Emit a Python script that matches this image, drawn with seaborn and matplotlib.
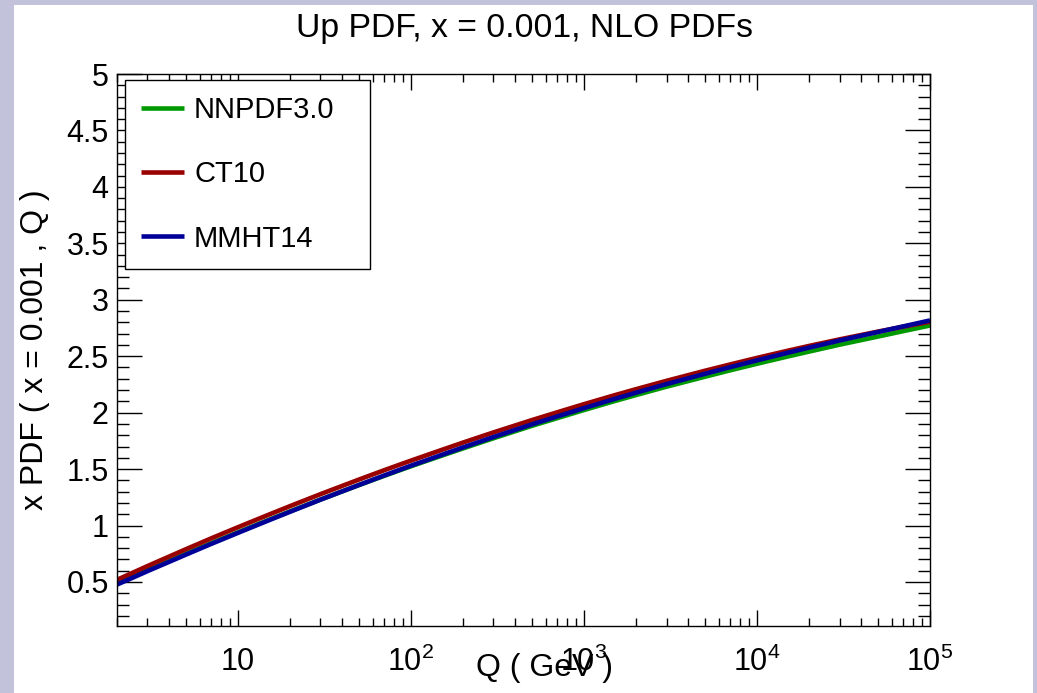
import numpy as np
import pandas as pd
import matplotlib
matplotlib.use("Agg")
import matplotlib.pyplot as plt
import matplotlib.ticker as mticker
from matplotlib.patches import Rectangle
import seaborn as sns

# ---------------- data ----------------
Q = [2, 2.5, 3, 4, 5, 7, 10, 15, 20, 30, 50, 70, 100, 150, 200, 300, 500, 700,
     1000, 1500, 2000, 3000, 5000, 7000, 1e4, 1.5e4, 2e4, 3e4, 5e4, 7e4, 1e5]
nnpdf30 = [0.485, 0.550, 0.604, 0.685, 0.749, 0.843, 0.940, 1.049, 1.125, 1.230, 1.358,
           1.440, 1.525, 1.618, 1.683, 1.773, 1.883, 1.951, 2.023, 2.102, 2.156, 2.230,
           2.318, 2.375, 2.433, 2.497, 2.541, 2.602, 2.674, 2.722, 2.772]
ct10 = [0.519, 0.586, 0.641, 0.725, 0.790, 0.886, 0.985, 1.095, 1.172, 1.278, 1.407,
        1.490, 1.575, 1.669, 1.735, 1.825, 1.934, 2.003, 2.075, 2.154, 2.208, 2.282,
        2.371, 2.427, 2.485, 2.548, 2.591, 2.649, 2.718, 2.761, 2.805]
mmht14 = [0.477, 0.542, 0.596, 0.678, 0.742, 0.837, 0.935, 1.045, 1.122, 1.229, 1.359,
          1.443, 1.530, 1.625, 1.692, 1.784, 1.896, 1.966, 2.040, 2.121, 2.177, 2.253,
          2.344, 2.403, 2.463, 2.530, 2.576, 2.639, 2.714, 2.764, 2.817]
series_names = ["NNPDF3.0", "CT10", "MMHT14"]
series_colors = ["#009900", "#990000", "#000099"]

title = "Up PDF, x = 0.001, NLO PDFs"
xlabel = "Q ( GeV )"
ylabel = "x PDF ( x = 0.001 , Q )"

df = pd.concat([
    pd.DataFrame({"Q": Q, "val": v, "set": n})
    for n, v in zip(series_names, [nnpdf30, ct10, mmht14])
], ignore_index=True)

# ---------------- style ----------------
sns.set_theme(style="white")
plt.rcParams["font.family"] = ["Liberation Sans", "DejaVu Sans"]
plt.rcParams["mathtext.fontset"] = "custom"
plt.rcParams["mathtext.rm"] = "Liberation Sans"
plt.rcParams["mathtext.it"] = "Liberation Sans:italic"
plt.rcParams["mathtext.bf"] = "Liberation Sans:bold"
plt.rcParams["text.color"] = "black"
plt.rcParams["xtick.color"] = "black"
plt.rcParams["ytick.color"] = "black"
plt.rcParams["xtick.labelcolor"] = "black"
plt.rcParams["ytick.labelcolor"] = "black"
plt.rcParams["lines.solid_capstyle"] = "butt"

W, H = 1037, 693
fig = plt.figure(figsize=(W / 100, H / 100), dpi=100, facecolor="#c2c2da")
# white pad area (behind everything)
fig.patches.append(Rectangle((14 / W, 0), (1033 - 14) / W, (H - 5) / H,
                             transform=fig.transFigure, facecolor="white",
                             edgecolor="none", zorder=-10))

ax = fig.add_axes([117 / W, 1 - 626 / H, (930 - 117) / W, (626 - 74) / H])
ax.set_facecolor("white")
ax.set_zorder(1)

sns.lineplot(data=df, x="Q", y="val", hue="set", hue_order=series_names,
             palette=series_colors, linewidth=3.3, ax=ax, legend=False,
             estimator=None, sort=True)

ax.set_xscale("log")
ax.set_xlim(2, 1e5)
ax.set_ylim(0.11, 5)

# ticks
ax.yaxis.set_major_locator(mticker.MultipleLocator(0.5))
ax.yaxis.set_minor_locator(mticker.MultipleLocator(0.1))
ax.yaxis.set_major_formatter(mticker.FuncFormatter(lambda v, p: "%g" % v))
ax.xaxis.set_major_locator(mticker.LogLocator(base=10, numticks=20))
ax.xaxis.set_minor_locator(mticker.LogLocator(base=10, subs=np.arange(2, 10), numticks=50))


def xfmt(v, p):
    e = int(round(np.log10(v)))
    if e == 1:
        return "10"
    return r"$10^{%d}$" % e


ax.xaxis.set_major_formatter(mticker.FuncFormatter(xfmt))
ax.xaxis.set_minor_formatter(mticker.NullFormatter())

ax.tick_params(axis="both", which="both", direction="in", top=True, right=True,
               bottom=True, left=True, colors="black", width=1.0)
ax.tick_params(axis="y", which="major", length=18, labelsize=22, pad=6)
ax.tick_params(axis="y", which="minor", length=8.6)
ax.tick_params(axis="x", which="major", length=11.5, labelsize=22, pad=15)
ax.tick_params(axis="x", which="minor", length=5.8)

for s in ax.spines.values():
    s.set_color("black")
    s.set_linewidth(1.0)

ax.set_xlabel("")
ax.set_ylabel("")

# legend
handles = [plt.Line2D([], [], color=c, lw=3.3, solid_capstyle="butt") for c in series_colors]
leg = ax.legend(handles, series_names, loc="upper left",
                bbox_to_anchor=(125 / W, 1 - 268 / H, (370 - 125) / W, (268 - 80) / H),
                bbox_transform=fig.transFigure, mode="expand", borderaxespad=0,
                fontsize=21, frameon=True, fancybox=False, handlelength=1.45,
                handletextpad=0.36, labelspacing=1.24, borderpad=0.56)
leg.get_frame().set_edgecolor("black")
leg.get_frame().set_linewidth(1.0)
leg.get_frame().set_facecolor("white")
leg.get_frame().set_alpha(1.0)
for t in leg.get_texts():
    t.set_color("black")

# texts
fig.text(524 / W, 1 - 29 / H, title, ha="center", va="center", fontsize=24.3, color="black")
fig.text(544 / W, 1 - 668 / H, xlabel, ha="center", va="center", fontsize=23, color="black")
fig.text(35 / W, 1 - 350 / H, ylabel, ha="center", va="center", rotation=90,
         fontsize=23, color="black")

fig.savefig("out.png", dpi=100, facecolor=fig.get_facecolor())
